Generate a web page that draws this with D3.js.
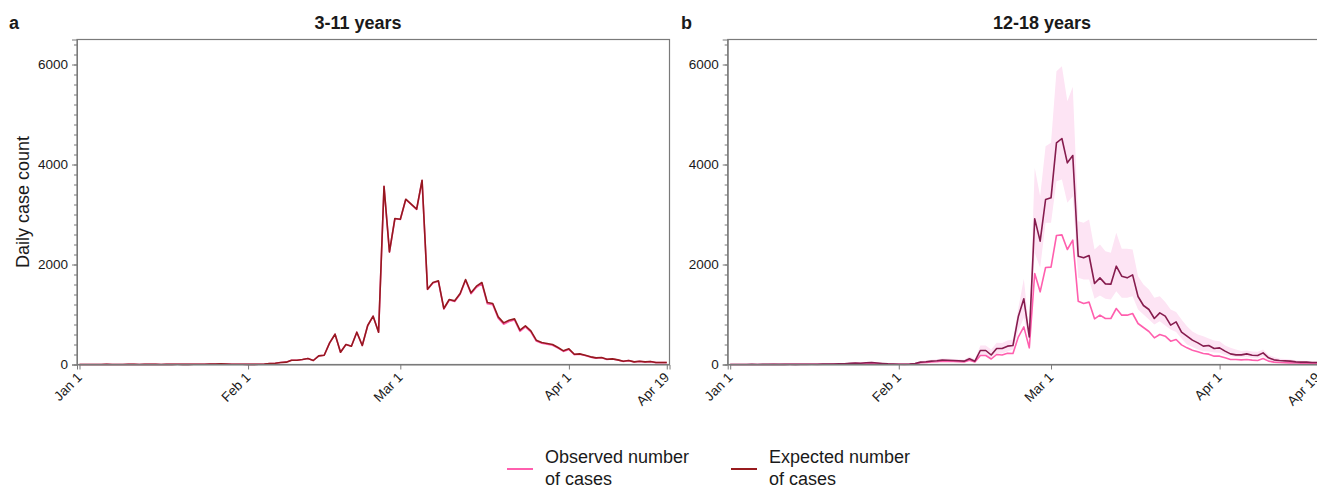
<!DOCTYPE html>
<html>
<head>
<meta charset="utf-8">
<script src="https://cdn.jsdelivr.net/npm/d3@7"></script>
<style>
  body { margin: 0; background: #fff; }
  svg { display: block; font-family: "Liberation Sans", Arial, sans-serif; }
</style>
</head>
<body>
<svg id="chart" width="1317" height="490"></svg>
<script>
// daily counts, Jan 1 .. Apr 19 (109 days)
const firstDay = "2021-01-01";
const lastDay = "2021-04-19";
const tickDays = ["2021-01-01", "2021-02-01", "2021-03-01", "2021-04-01", "2021-04-19"];
const tickLabels = ["Jan 1", "Feb 1", "Mar 1", "Apr 1", "Apr 19"];
const yMajorTicks = [0, 2000, 4000, 6000];
const panelTitles = ["3-11 years", "12-18 years"];
const panelLetters = ["a", "b"];
const legendLabels = [["Observed number", "of cases"], ["Expected number", "of cases"]];

const expected311 = [
  0, 0, 1, 0, 1, 2, 1, 0, 1, 2,
  2, 1, 2, 3, 2, 1, 2, 3, 4, 3,
  2, 4, 6, 5, 8, 10, 12, 8, 6, 5,
  4, 3, 2, 5, 10, 20, 26, 40, 47, 86,
  86, 100, 120, 80, 173, 186, 433, 606, 246, 400,
  366, 646, 380, 780, 966, 646, 3566, 2253, 2920, 2906,
  3306, 3206, 3106, 3686, 1506, 1640, 1673, 1120, 1300, 1273,
  1420, 1700, 1433, 1566, 1640, 1240, 1220, 953, 833, 886,
  913, 686, 773, 673, 486, 440, 420, 400, 340, 273,
  313, 206, 213, 186, 153, 133, 140, 106, 113, 93,
  66, 80, 53, 66, 53, 60, 40, 40, 40
];
const observed311 = [
  0, 0, 1, 0, 1, 2, 1, 0, 1, 2,
  2, 1, 2, 3, 2, 1, 2, 3, 4, 3,
  2, 4, 6, 5, 8, 10, 12, 8, 6, 5,
  4, 3, 2, 5, 10, 20, 26, 40, 47, 86,
  86, 100, 120, 80, 173, 186, 433, 606, 246, 400,
  366, 646, 380, 780, 966, 646, 3560, 2250, 2915, 2900,
  3300, 3200, 3100, 3680, 1500, 1630, 1665, 1110, 1290, 1262,
  1405, 1685, 1415, 1545, 1615, 1215, 1195, 925, 805, 860,
  890, 662, 750, 652, 468, 424, 405, 386, 328, 262,
  302, 198, 205, 179, 147, 128, 135, 102, 109, 89,
  63, 77, 50, 63, 50, 57, 38, 38, 38
];

const expected1218 = [
  0, 0, 1, 1, 2, 1, 2, 2, 3, 2,
  3, 4, 3, 4, 5, 6, 5, 7, 8, 10,
  12, 15, 22, 30, 25, 35, 40, 30, 20, 12,
  8, 6, 5, 10, 20, 47, 55, 67, 75, 87,
  85, 80, 75, 67, 113, 67, 280, 280, 190, 320,
  320, 367, 380, 967, 1313, 553, 2913, 2467, 3300, 3333,
  4433, 4520, 4033, 4180, 2167, 2133, 2180, 1620, 1733, 1613,
  1607, 1967, 1767, 1733, 1793, 1360, 1180, 1100, 920, 1033,
  967, 787, 853, 647, 567, 487, 433, 367, 380, 320,
  333, 267, 213, 193, 193, 213, 186, 180, 233, 133,
  93, 80, 73, 67, 53, 47, 47, 40, 40
];
const observed1218 = [
  0, 0, 0, 1, 1, 1, 1, 1, 2, 1,
  2, 2, 2, 3, 3, 4, 3, 5, 5, 7,
  8, 10, 15, 20, 17, 24, 28, 20, 13, 8,
  5, 4, 3, 7, 14, 35, 40, 50, 55, 65,
  62, 60, 55, 50, 85, 50, 180, 180, 110, 200,
  190, 225, 220, 553, 753, 333, 1820, 1453, 1940, 1947,
  2580, 2593, 2300, 2487, 1267, 1220, 1247, 913, 987, 920,
  920, 1120, 987, 987, 1020, 820, 740, 660, 533, 600,
  567, 467, 500, 393, 333, 287, 253, 220, 207, 167,
  167, 133, 100, 100, 93, 100, 87, 80, 120, 67,
  47, 40, 35, 33, 30, 27, 27, 25, 25
];
const bandLow1218 = [
  0, 0, 0, 0, 0, 0, 0, 0, 1, 0,
  1, 1, 1, 1, 2, 2, 2, 3, 3, 4,
  5, 7, 12, 18, 14, 22, 26, 18, 11, 6,
  3, 2, 2, 4, 10, 30, 35, 45, 50, 60,
  58, 55, 50, 45, 75, 40, 190, 190, 130, 220,
  220, 260, 300, 680, 933, 467, 2233, 1933, 2833, 2833,
  3667, 3700, 3233, 3367, 1733, 1700, 1700, 1313, 1380, 1313,
  1300, 1467, 1333, 1333, 1367, 1100, 1000, 900, 800, 867,
  780, 700, 650, 520, 400, 350, 300, 267, 260, 240,
  233, 190, 167, 150, 140, 150, 130, 120, 167, 90,
  60, 50, 45, 40, 30, 28, 28, 24, 24
];
const bandHigh1218 = [
  2, 2, 3, 3, 5, 4, 5, 5, 7, 6,
  7, 9, 8, 9, 11, 12, 11, 14, 16, 19,
  22, 26, 36, 46, 40, 52, 58, 46, 32, 22,
  16, 13, 12, 20, 34, 70, 82, 95, 105, 120,
  118, 112, 105, 95, 160, 100, 380, 380, 300, 433,
  430, 480, 500, 1133, 1713, 680, 3933, 3367, 4367, 4433,
  5867, 5967, 5267, 5553, 2867, 2833, 2900, 2300, 2400, 2267,
  2233, 2633, 2313, 2313, 2300, 1767, 1600, 1500, 1333, 1367,
  1250, 1100, 1050, 900, 767, 660, 600, 567, 520, 480,
  467, 380, 333, 300, 271, 280, 260, 253, 300, 190,
  150, 120, 110, 100, 85, 75, 72, 62, 60
];

const observedColor = "#ff5fae";
const bandColor = "#fde4f4";
const frameColor = "#7a7a7a";
const textColor = "#1a1a1a";

const plotTop = 39.5, plotBottom = 364.5, plotWidth = 592.5;
const parseDay = d3.timeParse("%Y-%m-%d");
const days = d3.timeDay.range(parseDay(firstDay), d3.timeDay.offset(parseDay(lastDay), 1));

const svg = d3.select("#chart");

function drawPanel(opts) {
  let { left, title, titleX, letter, letterX, expected, observed, low, high, expectedColor } = opts;

  let x = d3.scaleTime()
            .domain([d3.timeHour.offset(days[0], -11), d3.timeHour.offset(days[days.length - 1], 12)])
            .range([left, left + plotWidth]);
  let y = d3.scaleLinear().domain([0, 6500]).range([plotBottom, plotTop]);

  let g = svg.append("g");

  if (low && high) {
    let band = d3.area()
                 .x((d, i) => x(days[i]))
                 .y0((d, i) => y(low[i]))
                 .y1((d, i) => y(high[i]));
    g.append("path")
     .datum(low)
     .attr("d", band)
     .attr("fill", bandColor);
  }

  let line = d3.line().x((d, i) => x(days[i])).y((d) => y(d));

  g.append("path")
   .datum(observed)
   .attr("d", line)
   .attr("fill", "none")
   .attr("stroke", observedColor)
   .attr("stroke-width", 1.6)
   .attr("stroke-linejoin", "round");

  g.append("path")
   .datum(expected)
   .attr("d", line)
   .attr("fill", "none")
   .attr("stroke", expectedColor)
   .attr("stroke-width", 1.6)
   .attr("stroke-linejoin", "round");

  // box round the plot
  g.append("rect")
   .attr("x", left)
   .attr("y", plotTop)
   .attr("width", plotWidth)
   .attr("height", plotBottom - plotTop)
   .attr("fill", "none")
   .attr("stroke", frameColor)
   .attr("stroke-width", 1.2);

  let minorAxis = d3.axisLeft(y).tickValues(d3.range(0, 6500, 200)).tickSize(3).tickFormat("");
  g.append("g")
   .attr("transform", `translate(${left},0)`)
   .call(minorAxis)
   .call((a) => a.select(".domain").remove())
   .call((a) => a.selectAll("line").attr("stroke", frameColor));

  let yAxis = d3.axisLeft(y).tickValues(yMajorTicks).tickSize(5).tickPadding(4).tickFormat(d3.format("d"));
  g.append("g")
   .attr("transform", `translate(${left},0)`)
   .call(yAxis)
   .call((a) => a.select(".domain").attr("stroke", frameColor))
   .call((a) => a.selectAll("line").attr("stroke", frameColor))
   .call((a) => a.selectAll("text")
                 .attr("fill", textColor)
                 .style("font-size", "13.5px")
                 .style("font-family", "'Liberation Sans', Arial, sans-serif"));

  let xAxis = d3.axisBottom(x)
                .tickValues(tickDays.map(parseDay))
                .tickSize(5)
                .tickFormat((d, i) => tickLabels[i]);
  g.append("g")
   .attr("transform", `translate(0,${plotBottom})`)
   .call(xAxis)
   .call((a) => a.select(".domain").attr("stroke", frameColor))
   .call((a) => a.selectAll("line").attr("stroke", frameColor))
   .call((a) => a.selectAll("text")
                 .attr("fill", textColor)
                 .attr("y", 0)
                 .attr("dy", "0.71em")
                 .attr("text-anchor", "end")
                 .attr("transform", "translate(-4,7) rotate(-45)")
                 .style("font-size", "13.5px")
                 .style("font-family", "'Liberation Sans', Arial, sans-serif"));

  svg.append("text")
     .attr("x", titleX)
     .attr("y", 29)
     .attr("text-anchor", "middle")
     .attr("fill", textColor)
     .style("font-size", "18px")
     .style("font-weight", "bold")
     .text(title);

  svg.append("text")
     .attr("x", letterX)
     .attr("y", 29)
     .attr("fill", textColor)
     .style("font-size", "18px")
     .style("font-weight", "bold")
     .text(letter);
}

drawPanel({
  left: 77, title: panelTitles[0], titleX: 358, letter: panelLetters[0], letterX: 9,
  expected: expected311, observed: observed311, expectedColor: "#951a1f"
});
drawPanel({
  left: 727.7, title: panelTitles[1], titleX: 1042, letter: panelLetters[1], letterX: 681,
  expected: expected1218, observed: observed1218, low: bandLow1218, high: bandHigh1218,
  expectedColor: "#861c4e"
});

svg.append("text")
   .attr("transform", "translate(29,202) rotate(-90)")
   .attr("text-anchor", "middle")
   .attr("fill", textColor)
   .style("font-size", "18px")
   .text("Daily case count");

// legend
let legendColor = d3.scaleOrdinal().domain([0, 1]).range([observedColor, "#981b1e"]);
let legendX = d3.scaleOrdinal().domain([0, 1]).range([507, 731]);

let legendRows = svg.selectAll(".legend")
                    .data(legendLabels)
                    .enter()
                    .append("g")
                    .attr("class", "legend")
                    .attr("transform", (d, i) => `translate(${legendX(i)},469)`);

legendRows.append("line")
          .attr("x1", 0)
          .attr("x2", 26)
          .attr("stroke", (d, i) => legendColor(i))
          .attr("stroke-width", 2);

legendRows.append("text")
          .attr("x", 38)
          .attr("y", -6)
          .attr("fill", textColor)
          .style("font-size", "18px")
          .selectAll("tspan")
          .data((d) => d)
          .enter()
          .append("tspan")
          .attr("x", 38)
          .attr("dy", (d, i) => (i === 0 ? 0 : 22))
          .text((d) => d);
</script>
</body>
</html>
